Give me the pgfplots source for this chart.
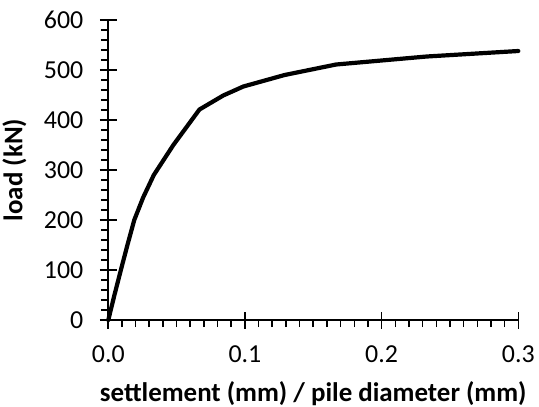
\documentclass[border=0pt]{standalone}
\usepackage{fontspec}
\setmainfont{Carlito}
\usepackage{pgfplots}
\pgfplotsset{compat=1.18}
\begin{document}
\begin{tikzpicture}
\useasboundingbox (-108.3bp,-87bp) rectangle (430.7bp,320bp);
\begin{axis}[
  scale only axis,
  width=410bp, height=300bp,
  xmin=0, xmax=0.3, ymin=0, ymax=600,
  axis x line*=bottom, axis y line*=left,
  axis line style={line width=1.6bp},
  every tick/.style={black, line width=1.6bp},
  xtick={0,0.1,0.2,0.3}, ytick={0,100,...,600},
  minor x tick num=9, minor y tick num=4,
  tick align=outside,
  major tick length=8.5bp, minor tick length=7bp,
  extra x ticks={0,0.1,0.2,0.3}, extra x tick labels={},
  extra y ticks={0,100,...,600}, extra y tick labels={},
  extra tick style={tick align=inside, major tick length=8.5bp},
  /pgf/number format/assume math mode=true,
  xticklabel style={/pgf/number format/.cd, fixed, fixed zerofill, precision=1, /tikz/.cd, yshift=-14bp},
  yticklabel style={/pgf/number format/.cd, fixed, /tikz/.cd, xshift=-13bp},
  ticklabel style={font=\fontsize{26}{30}\selectfont},
  label style={font=\fontsize{27}{31}\selectfont\bfseries},
  xlabel={settlement (mm) / pile diameter (mm)},
  ylabel={load (kN)},
  xlabel style={yshift=-3bp},
  ylabel style={yshift=2bp},
  clip=false,
]
\addplot[black, line width=4.2bp, line join=round, line cap=round] coordinates {
(0,0) (0.0045,50) (0.0092,100) (0.0140,150) (0.0190,200) (0.0255,245) (0.0333,290)
(0.0476,350) (0.0667,421) (0.0841,449) (0.0988,467) (0.129,490)
(0.1667,511) (0.233,527) (0.3,538)
};
\end{axis}
\end{tikzpicture}
\end{document}
